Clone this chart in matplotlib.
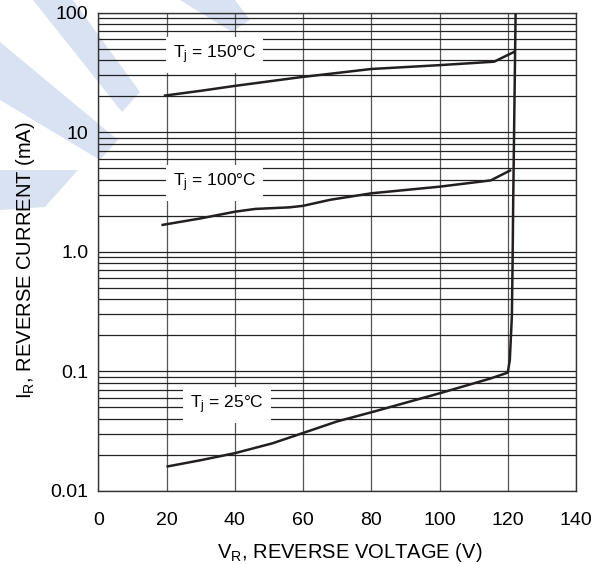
"""
Reverse current vs reverse voltage, three junction temperatures.
Log-scale datasheet style chart, saved to out.png.
"""

import matplotlib
matplotlib.use("Agg")
import matplotlib.pyplot as plt
from matplotlib.patches import Polygon
from matplotlib.ticker import FixedLocator, LogLocator, NullFormatter

# ── Data ──────────────────────────────────────────────────────────────────────

V_150 = [19.2, 30, 40, 59, 80, 100, 116, 122]
I_150 = [20.2, 22.2, 24.4, 28.8, 33.8, 36.4, 38.9, 47.2]

V_100 = [18.5, 30, 40, 46, 56, 60, 68, 80, 100, 115, 121]
I_100 = [1.67, 1.9, 2.16, 2.28, 2.35, 2.42, 2.72, 3.08, 3.50, 3.95, 4.83]

# 25 °C curve continues into the breakdown line
V_25 = [20, 30, 40, 51, 60, 70, 80, 100, 115, 120, 120.6, 121.2, 121.4, 121.6, 122.3]
I_25 = [0.0159, 0.018, 0.0206, 0.0249, 0.0304, 0.038, 0.0453, 0.0653, 0.087,
        0.0973, 0.124, 0.286, 0.75, 2.7, 100]

X_TICKS = [0, 20, 40, 60, 80, 100, 120, 140]
Y_TICKS = [0.01, 0.1, 1.0, 10, 100]
Y_TICK_LABELS = ["0.01", "0.1", "1.0", "10", "100"]

LABELS = [
    # (text, x, y)
    (r"T$_\mathregular{j}$ = 150°C", 34.1, 44.3),
    (r"T$_\mathregular{j}$ = 100°C", 34.1, 3.76),
    (r"T$_\mathregular{j}$ = 25°C", 37.8, 0.052),
]

# ── Style ─────────────────────────────────────────────────────────────────────

CURVE = "#231f20"
HGRID = "#222222"
VGRID = "#555555"
WATERMARK = "#d9e2f3"
FONT = ["Liberation Sans", "DejaVu Sans"]

W, H = 607, 564

# decorative watermark bands, figure pixels (x, y from top)
BANDS = [
    [(33, 0), (73, 0), (140, 92), (122, 112)],
    [(0, 42), (0, 100), (100, 160), (118, 140)],
    [(180, 0), (235, 0), (250, 20), (232, 32)],
    [(0, 170), (78, 170), (45, 207), (0, 210)],
]


def main() -> None:
    plt.rcParams["font.family"] = FONT
    plt.rcParams["mathtext.default"] = "regular"

    fig = plt.figure(figsize=(W / 100, H / 100), dpi=100)
    ax = fig.add_axes([98.3 / W, 1 - 490.7 / H, 477.7 / W, 478 / H])
    ax.set_facecolor("none")

    for band in BANDS:
        pts = [(x / W, 1 - y / H) for x, y in band]
        fig.add_artist(Polygon(pts, closed=True, transform=fig.transFigure,
                               facecolor=WATERMARK, edgecolor="none", zorder=-1))

    ax.set_yscale("log")
    ax.set_xlim(0, 140)
    ax.set_ylim(0.01, 100)

    ax.xaxis.set_major_locator(FixedLocator(X_TICKS))
    ax.yaxis.set_major_locator(FixedLocator(Y_TICKS))
    ax.yaxis.set_minor_locator(LogLocator(base=10, subs=range(2, 10)))
    ax.yaxis.set_minor_formatter(NullFormatter())
    ax.set_yticklabels(Y_TICK_LABELS)

    ax.tick_params(axis="both", which="both", length=0, labelsize=14)
    ax.tick_params(axis="x", pad=15)
    ax.tick_params(axis="y", pad=7)

    ax.grid(True, axis="y", which="both", color=HGRID, lw=0.9)
    ax.grid(True, axis="x", which="major", color=VGRID, lw=0.9)

    for s in ax.spines.values():
        s.set_color("#333333")
        s.set_linewidth(1.0)

    for v, i in [(V_150, I_150), (V_100, I_100), (V_25, I_25)]:
        ax.plot(v, i, color=CURVE, lw=1.8, solid_capstyle="butt", zorder=3,
                clip_on=True)

    for text, x, y in LABELS:
        ax.text(x, y, text, fontsize=12.5, ha="center", va="center", zorder=4,
                bbox=dict(facecolor="white", edgecolor="none", pad=5))

    ax.set_xlabel(r"V$_\mathregular{R}$, REVERSE VOLTAGE (V)", fontsize=14.5)
    ax.set_ylabel(r"I$_\mathregular{R}$, REVERSE CURRENT (mA)", fontsize=14.5)
    ax.xaxis.set_label_coords(0.527, -0.105)
    ax.yaxis.set_label_coords(-0.128, 0.483)

    fig.savefig("out.png", dpi=100)
    plt.close(fig)


if __name__ == "__main__":
    main()
